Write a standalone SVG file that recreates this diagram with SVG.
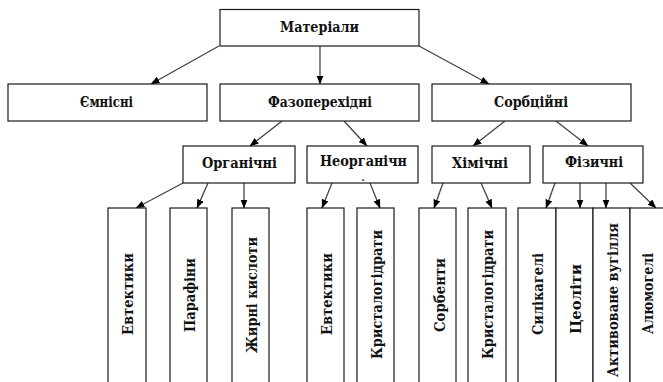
<svg xmlns="http://www.w3.org/2000/svg" width="663" height="382" viewBox="0 0 663 382">
<style>
.box{fill:#fff;stroke:#1a1a1a;stroke-width:1.2}
text{font-family:"DejaVu Serif","Liberation Serif",serif;font-weight:bold;fill:#111;text-anchor:middle}
.lbl{font-size:14px}
.dot{font-size:10px}
.vl{font-size:15px}
.con{stroke:#444;stroke-width:1.3;fill:none;marker-end:url(#ah)}
</style>
<defs>
<marker id="ah" markerUnits="userSpaceOnUse" markerWidth="9" markerHeight="8" refX="8.5" refY="3.5" orient="auto">
<path d="M0,0 L9,3.5 L0,7 z" fill="#000"/>
</marker>
</defs>
<rect width="663" height="382" fill="#fff"/>
<g id="connectors">
<line class="con" x1="219" y1="46" x2="151" y2="84"/>
<line class="con" x1="320" y1="46" x2="320" y2="84"/>
<line class="con" x1="419" y1="46" x2="489" y2="84"/>
<line class="con" x1="282" y1="121" x2="250" y2="146"/>
<line class="con" x1="344" y1="121" x2="367" y2="146"/>
<line class="con" x1="505" y1="121" x2="473" y2="146"/>
<line class="con" x1="556" y1="121" x2="588" y2="146"/>
<line class="con" x1="183" y1="183" x2="136" y2="208"/>
<line class="con" x1="208" y1="183" x2="197" y2="208"/>
<line class="con" x1="244" y1="183" x2="244" y2="208"/>
<line class="con" x1="332" y1="183" x2="322" y2="208"/>
<line class="con" x1="370" y1="183" x2="380" y2="208"/>
<line class="con" x1="443" y1="183" x2="434" y2="208"/>
<line class="con" x1="481" y1="183" x2="492" y2="208"/>
<line class="con" x1="555" y1="183" x2="546" y2="208"/>
<line class="con" x1="580" y1="183" x2="580" y2="208"/>
<line class="con" x1="606" y1="183" x2="606" y2="208"/>
<line class="con" x1="630" y1="183" x2="656" y2="208"/>
</g>
<g id="materialy"><rect class="box" x="220" y="9.5" width="199" height="36.5"/><text class="lbl" x="319.5" y="32" textLength="79" lengthAdjust="spacingAndGlyphs">Матеріали</text></g>
<g id="yemnisni"><rect class="box" x="8" y="84" width="199" height="37"/><text class="lbl" x="106.5" y="107" textLength="53" lengthAdjust="spacingAndGlyphs">Ємнісні</text></g>
<g id="fazoperekhidni"><rect class="box" x="220" y="84" width="199" height="37"/><text class="lbl" x="320" y="107" textLength="104" lengthAdjust="spacingAndGlyphs">Фазоперехідні</text></g>
<g id="sorbtsiini"><rect class="box" x="432" y="84" width="199" height="37"/><text class="lbl" x="531" y="107" textLength="74" lengthAdjust="spacingAndGlyphs">Сорбційні</text></g>
<g id="orhanichni"><rect class="box" x="183" y="146" width="112" height="37"/><text class="lbl" x="239.5" y="168" textLength="75" lengthAdjust="spacingAndGlyphs">Органічні</text></g>
<g id="neorhanichni"><rect class="box" x="307" y="146" width="111" height="37"/><text class="lbl" x="363.5" y="166" textLength="87" lengthAdjust="spacingAndGlyphs">Неорганічн</text><text class="dot" x="363" y="181">.</text></g>
<g id="khimichni"><rect class="box" x="432" y="146" width="98" height="37"/><text class="lbl" x="480" y="168" textLength="56" lengthAdjust="spacingAndGlyphs">Хімічні</text></g>
<g id="fizychni"><rect class="box" x="543" y="146" width="100" height="37"/><text class="lbl" x="594" y="167" textLength="58" lengthAdjust="spacingAndGlyphs">Фізичні</text></g>
<g id="evtektyky1"><rect class="box" x="108" y="208" width="38" height="200"/><text class="vl" transform="translate(133,294) rotate(-90)" textLength="82" lengthAdjust="spacingAndGlyphs">Евтектики</text></g>
<g id="parafiny"><rect class="box" x="170" y="208" width="37" height="200"/><text class="vl" transform="translate(194.5,295) rotate(-90)" textLength="74" lengthAdjust="spacingAndGlyphs">Парафіни</text></g>
<g id="zhyrni"><rect class="box" x="232" y="208" width="37" height="200"/><text class="vl" transform="translate(256.5,295) rotate(-90)" textLength="116" lengthAdjust="spacingAndGlyphs">Жирні кислоти</text></g>
<g id="evtektyky2"><rect class="box" x="307" y="208" width="37" height="200"/><text class="vl" transform="translate(331.5,294) rotate(-90)" textLength="82" lengthAdjust="spacingAndGlyphs">Евтектики</text></g>
<g id="krystalohidraty1"><rect class="box" x="357" y="208" width="37" height="200"/><text class="vl" transform="translate(381.5,294.5) rotate(-90)" textLength="129" lengthAdjust="spacingAndGlyphs">Кристалогідрати</text></g>
<g id="sorbenty"><rect class="box" x="419" y="208" width="37" height="200"/><text class="vl" transform="translate(444.5,295) rotate(-90)" textLength="74" lengthAdjust="spacingAndGlyphs">Сорбенти</text></g>
<g id="krystalohidraty2"><rect class="box" x="468" y="208" width="38" height="200"/><text class="vl" transform="translate(493,294.5) rotate(-90)" textLength="129" lengthAdjust="spacingAndGlyphs">Кристалогідрати</text></g>
<g id="silikaheli"><rect class="box" x="518" y="208" width="38" height="200"/><text class="vl" transform="translate(543,294) rotate(-90)" textLength="82" lengthAdjust="spacingAndGlyphs">Силікагелі</text></g>
<g id="tseolity"><rect class="box" x="556" y="208" width="37" height="200"/><text class="vl" transform="translate(580.5,299) rotate(-90)" textLength="70" lengthAdjust="spacingAndGlyphs">Цеоліти</text></g>
<g id="aktyvovane"><rect class="box" x="593" y="208" width="37" height="200"/><text class="vl" transform="translate(617.5,300) rotate(-90)" textLength="154" lengthAdjust="spacingAndGlyphs">Активоване вугілля</text></g>
<g id="aliumoheli"><rect class="box" x="630" y="208" width="50" height="200"/><text class="vl" transform="translate(653,293.5) rotate(-90)" textLength="81" lengthAdjust="spacingAndGlyphs">Алюмогелі</text></g>
</svg>
